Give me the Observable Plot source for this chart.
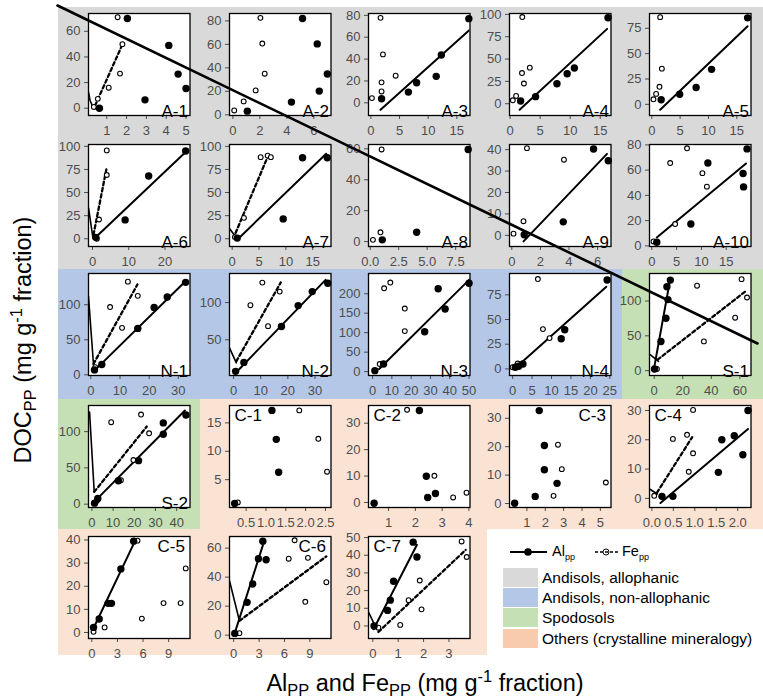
<!DOCTYPE html>
<html>
<head>
<meta charset="utf-8">
<script src="https://cdn.jsdelivr.net/npm/d3@7"></script>
<script src="https://cdn.jsdelivr.net/npm/@observablehq/plot@0.6"></script>
<style>
  body { margin: 0; background: white; font-family: "Liberation Sans", Arial, sans-serif; }
  #fig { position: relative; width: 763px; height: 700px; overflow: hidden; background: white; }
  .abs { position: absolute; }
  sub, sup { font-size: 0.62em; line-height: 0; }
  .title sub, .title sup { font-size: 0.7em; }
</style>
</head>
<body>
<div id="fig"></div>
<script>
// ---------------- data ----------------
const soilGroups = ["Andisols, allophanic", "Andisols, non-allophanic", "Spodosols", "Others (crystalline mineralogy)"];
const groupFill = ["#d9d9d9", "#b4c7e7", "#c5e0b4", "#fbe3d4"];
const swatchFill = ["#d9d9d9", "#b4c7e7", "#c5e0b4", "#f8cbad"];

const panelIds = ["A-1","A-2","A-3","A-4","A-5","A-6","A-7","A-8","A-9","A-10",
                  "N-1","N-2","N-3","N-4","S-1","S-2","C-1","C-2","C-3","C-4","C-5","C-6","C-7"];
const panelGroup = [0,0,0,0,0,0,0,0,0,0, 1,1,1,1,2, 2,3,3,3,3, 3,3,3];
const labelCorner = ["bottom-right","bottom-right","bottom-right","bottom-right","bottom-right",
                     "bottom-right","bottom-right","bottom-right","bottom-right","bottom-right",
                     "bottom-right","bottom-right","bottom-right","bottom-right","bottom-right",
                     "bottom-right","top-left","top-left","top-right","top-left",
                     "top-right","top-right","top-left"];

const xDomains = [[0.08,5.2],[-0.25,7.27],[-0.42,17.3],[-0.1,16.8],[-0.4,17.5],
                  [-1.1,26.9],[-0.5,18.4],[-0.15,8.76],[-0.16,6.94],[-0.47,20],
                  [-0.8,34],[-1.5,35.9],[-2.1,50.5],[-0.8,25.3],[-3.3,67.8],
                  [-1.6,46.3],[0.08,2.64],[0.25,4.04],[0.05,5.58],[-0.055,2.31],
                  [-0.39,11.5],[-0.5,11.5],[-0.17,3.83]];
const yDomains = [[-5.7,73.9],[-0.6,86.3],[-11.6,81.7],[-13.2,101],[-11,89.6],
                  [-8.4,102],[-8.4,102],[-3.2,62.8],[-5.2,42.4],[-0.5,80.3],
                  [-1,144.6],[2,139],[-10,252],[-6.7,96.6],[-7,139.5],
                  [-4.6,136],[0.1,18.06],[-1.9,36.7],[-1.4,34.5],[-3.1,31.7],
                  [-2.6,41.5],[-2.3,68],[-7.1,50.6]];
const xTicks = [[1,2,3,4,5],[0,2,4,6],[0,5,10,15],[0,5,10,15],[0,5,10,15],
                [0,10,20],[0,5,10,15],[0,2.5,5,7.5],[0,2,4,6],[0,5,10,15],
                [0,10,20,30],[0,10,20,30],[0,10,20,30,40,50],[0,5,10,15,20,25],[0,20,40,60],
                [0,10,20,30,40],[0.5,1,1.5,2,2.5],[1,2,3,4],[1,2,3,4,5],[0,0.5,1,1.5,2],
                [0,3,6,9],[0,3,6,9],[0,1,2,3]];
const yTicks = [[0,20,40,60],[0,20,40,60,80],[0,20,40,60,80],[0,25,50,75,100],[0,25,50,75],
                [0,25,50,75,100],[0,25,50,75,100],[0,20,40,60],[0,10,20,30,40],[0,20,40,60,80],
                [0,50,100],[50,100],[0,50,100,150,200],[0,25,50,75],[0,50,100],
                [0,50,100],[5,10,15],[0,10,20,30],[0,10,20,30],[0,10,20,30],
                [0,10,20,30,40],[0,20,40,60],[0,10,20,30,40,50]];

// Al_pp (filled) observations per panel: [Al, DOC]
const alPoints = [
  [[0.63,0],[2.04,70],[2.93,6.5],[4.13,49],[4.6,26.6],[5.0,15.4]],
  [[1.07,3.1],[4.34,10.8],[5.16,82],[6.25,60.4],[6.4,20.2],[7.0,34.8]],
  [[1.86,3.7],[6.54,9.8],[7.98,18.3],[11.4,24.2],[12.3,43.7],[17.1,77]],
  [[1.75,3],[4.24,7.9],[7.8,22.3],[9.5,33.6],[10.7,40],[16.3,96.2]],
  [[1.66,4.6],[4.92,10],[7.82,16.6],[10.55,34.5],[16.9,85.3]],
  [[0.9,1.5],[9,20.4],[15.5,67.9],[25.7,94.9]],
  [[0.94,0.7],[9.5,21.5],[13.1,87.6],[17.7,87.6]],
  [[1.06,1.1],[4.08,6],[8.6,59.6]],
  [[0.87,0.3],[3.6,6.3],[5.72,40.3],[6.75,34.8]],
  [[1.0,2.9],[7.87,17.3],[11.3,65.6],[18.4,57.3],[18.5,46.7],[19.2,76.8]],
  [[1.25,7],[3.76,14.6],[16.1,66.2],[21.7,96.2],[26.2,111],[32.5,132]],
  [[0.74,7.6],[3.8,19.6],[17.65,67.8],[23.8,95.9],[29,114.7],[34.7,125.9]],
  [[1.2,2.5],[5.7,19.5],[27,102.5],[34,212.7],[37.6,161],[50,227]],
  [[0.7,1.7],[1.55,2.7],[2.66,5],[12.5,30.5],[13.4,39.6],[24.3,90]],
  [[0.2,2.4],[4.7,41.9],[8.2,75.2],[9.6,102],[8.9,120.5],[11.3,130]],
  [[1.25,1.4],[2.8,7.8],[12.5,32.3],[22,60],[33.7,112],[33.7,96.3],[44.4,123]],
  [[0.21,0.8],[1.15,17.2],[1.26,12.1],[1.32,6.3]],
  [[0.46,-0.3],[2.15,34.8],[2.41,9.9],[2.46,1.9],[2.75,3.4]],
  [[0.33,0.1],[1.45,2.5],[1.67,32.7],[1.95,20.4],[1.95,11.9],[2.64,7.1]],
  [[0.235,0.7],[0.49,0.7],[1.55,8.9],[1.63,20],[1.92,21.4],[2.12,14.9],[2.24,30]],
  [[0.2,2.2],[0.86,5.8],[1.9,12.6],[2.3,12.6],[3.4,27.5],[4.9,39.5]],
  [[0.12,1.2],[1.58,22.6],[2.25,35.3],[2.92,52.7],[3.83,52],[3.44,64.7]],
  [[0.05,0],[0.58,8.8],[0.69,14.6],[0.82,25.3],[1.59,47.4],[1.74,39]]
];
// Fe_pp (open) observations per panel: [Fe, DOC]
const fePoints = [
  [[1.55,71],[1.79,50],[1.67,27],[1.1,16],[0.55,7.3],[0.35,1]],
  [[0.1,3.7],[0.8,11.4],[1.69,20.8],[2.04,82.6],[2.18,60.7],[2.36,35]],
  [[0.18,4.3],[1.86,10.4],[1.86,18.7],[2.1,44.3],[4.32,24.8],[1.68,77.7]],
  [[0.45,3.8],[1.0,8.7],[1.98,34.3],[2.3,22.6],[3.28,40.4],[2.03,97]],
  [[0.3,5],[0.77,10.3],[1.36,17.3],[1.78,35.2],[1.48,86]],
  [[1.2,0],[1.8,20.8],[3.94,69],[3.94,95.6]],
  [[0.5,1.8],[2.19,22.6],[5.3,88.3],[6.6,90],[7.2,88.3]],
  [[0.24,1.1],[0.9,6],[1.0,59.6]],
  [[0.12,0.8],[0.82,6.6],[1.06,40.7],[3.65,35.3]],
  [[0.34,3.5],[4.7,17.3],[3.7,65.6],[7.1,77.3],[10.2,57.6],[11.1,46.9]],
  [[1.5,11],[6.6,96.7],[10.7,67],[12.7,133],[16.1,112.7]],
  [[6.2,96.4],[10.6,126.8],[12.7,68.3],[17,114.7]],
  [[3.7,19.5],[6,214],[9.2,228.8],[16.7,162],[16.7,104]],
  [[0,1.7],[1.3,5.4],[7.8,40.3],[9.5,31.2],[6.5,91]],
  [[1.9,2.4],[30,122],[34.8,42],[56.7,76],[61.2,131.4],[65,105]],
  [[2.35,4.6],[13.7,33],[19.6,60.8],[9.1,113],[23.2,123.5],[27,97.7]],
  [[0.29,1],[1.84,17.2],[2.32,12.2],[2.54,6.4]],
  [[1.69,35.1],[2.71,10.1],[3.41,1.9],[3.91,3.7]],
  [[2.45,2.7],[2.69,20.7],[2.9,12.1],[5.3,7.4]],
  [[0.055,0.9],[0.49,20.3],[0.82,21.7],[0.86,9.1],[0.96,15.4],[0.96,30.2]],
  [[0.2,0.3],[1.5,2.2],[5.86,6],[5.35,39.7],[8.4,12.7],[10.4,12.7],[11.0,27.7]],
  [[0.67,1.4],[7.2,65.4],[6.5,52.7],[8.77,53.3],[8.46,23],[10.95,36.5]],
  [[0.22,-1],[1.08,0.6],[1.41,14.6],[1.85,25.7],[1.92,9.4],[3.5,47.8],[3.7,39]]
];
// fitted lines; null where absent
const alFits = [
  null, null, [[1.68,-6.4],[17.16,66.4]], [[1.58,-6.8],[16.16,83.8]], [[1.48,-5.3],[16.9,77]],
  [[0.46,0],[26,95]], [[0.94,-1],[17.5,92]], null, [[0.82,-2.8],[6.66,38]], [[1.0,6.7],[19.0,65.3]],
  [[1.48,7],[32.8,135]], [[0.74,5.4],[33.9,130.4]], [[3.4,6.8],[50.3,237]], [[0.7,1],[24.1,83.2]], [[-0.5,-1],[11.3,132.4]],
  [[0,0],[43.9,129]], null, null, null, [[0.2,-1.6],[2.24,23.7]],
  [[0,0.3],[4.9,38.3]], [[0.08,0.7],[3.44,61.9]], [[0.03,-1.9],[1.74,45.9]]
];
const feFits = [
  [[0.41,2],[1.81,50.4]], null, null, null, null,
  [[0.28,4.4],[3.94,77.4]], [[0.63,6.2],[6.7,90]], null, null, null,
  [[0.9,15.5],[16,129]], [[1,21],[17.4,127]], null, null, [[2.35,15.7],[64.2,114.3]],
  [[1.1,17],[25.9,107]], null, null, null, [[0.12,2],[0.94,20.9]],
  null, [[0.67,9.9],[10.95,54.3]], [[0.22,-3.4],[3.66,43]]
];
// short solid strokes entering from the left panel edge
const hooks = [
  [[0.08,12.5],[0.16,6],[0.29,1.3],[0.4,-0.5]], null, null, null, null,
  [[-1.1,33.6],[0.1,1.5]], [[-0.5,11],[0.8,0.7]], null, null, null,
  [[-0.8,111.7],[0.9,15.5]], [[-1.5,39],[1,19]], null, null, [[-3.3,23.8],[3,13.3]],
  [[-1.1,127],[1.1,17]], null, null, null, [[-0.055,3.2],[0.13,1.5]],
  null, [[-0.5,37.6],[0.67,9.9]], [[-0.17,7.9],[0.09,0]]
];
// long diagonal stroke across the figure, in page pixel units
const strayLine = [[57,5],[757,343]];

// ---------------- layout ----------------
const FRAME_X = [88, 228.5, 368, 509, 649];
const FRAME_Y = [13, 144, 273, 405, 536];
const FRAME_W = 101.5, FRAME_H = 102;
const CELL_X = [58, 200, 341, 487, 622, 763];
const CELL_Y = [7, 138, 269, 399, 529, 655];
const ML = 36, MR = 8, MT = 4, MB = 24;
const FONT = "'Liberation Sans', Arial, Helvetica, sans-serif";
const AXIS_COLOR = "#4d4d4d";

const fig = document.getElementById("fig");

function fmtFor(ticks) {
  return ticks.some(v => !Number.isInteger(v)) ? d3.format(".1f") : d3.format("d");
}

panelIds.forEach((id, i) => {
  const r = Math.floor(i / 5), c = i % 5;
  const bg = document.createElement("div");
  bg.className = "abs";
  Object.assign(bg.style, {
    left: CELL_X[c] + "px", top: CELL_Y[r] + "px",
    width: (CELL_X[c + 1] - CELL_X[c]) + "px", height: (CELL_Y[r + 1] - CELL_Y[r]) + "px",
    background: groupFill[panelGroup[i]]
  });
  fig.appendChild(bg);
});

panelIds.forEach((id, i) => {
  const r = Math.floor(i / 5), c = i % 5;
  const corner = labelCorner[i];
  const dx = corner === "bottom-right" ? -2 : corner === "top-right" ? -5 : 5;
  const dy = corner === "bottom-right" ? 1 : 3;
  const marks = [
    Plot.frame({fill: "white"}),
    Plot.axisX({ticks: xTicks[i], tickFormat: fmtFor(xTicks[i]), tickSize: 4, tickPadding: 6,
                fontSize: 13, color: AXIS_COLOR, label: null}),
    Plot.axisY({ticks: yTicks[i], tickFormat: fmtFor(yTicks[i]), tickSize: 4, tickPadding: 4,
                fontSize: 13, color: AXIS_COLOR, label: null})
  ];
  if (hooks[i]) marks.push(Plot.line(hooks[i], {x: d => d[0], y: d => d[1], stroke: "black", strokeWidth: 1.6, clip: true}));
  if (feFits[i]) marks.push(Plot.line(feFits[i], {x: d => d[0], y: d => d[1], stroke: "black", strokeWidth: 2.3, strokeDasharray: "3.5,2.8", clip: true}));
  if (alFits[i]) marks.push(Plot.line(alFits[i], {x: d => d[0], y: d => d[1], stroke: "black", strokeWidth: 2, clip: true}));
  marks.push(Plot.dot(fePoints[i], {x: d => d[0], y: d => d[1], r: 2.4, fill: "white", stroke: "black", strokeWidth: 1.1}));
  marks.push(Plot.dot(alPoints[i], {x: d => d[0], y: d => d[1], r: 3.7, fill: "black", stroke: "none"}));
  marks.push(Plot.text([id], {text: d => d, frameAnchor: corner, dx, dy, fontSize: 17, fill: "black"}));
  marks.push(Plot.frame({stroke: "black", strokeWidth: 1.3}));

  const svg = Plot.plot({
    width: ML + FRAME_W + MR,
    height: MT + FRAME_H + MB,
    marginLeft: ML, marginRight: MR, marginTop: MT, marginBottom: MB,
    x: {domain: xDomains[i]},
    y: {domain: yDomains[i]},
    style: {background: "transparent", overflow: "visible", fontFamily: FONT, fontSize: "13px"},
    marks
  });
  svg.classList.add("abs");
  svg.style.left = (FRAME_X[c] - ML) + "px";
  svg.style.top = (FRAME_Y[r] - MT) + "px";
  svg.style.maxWidth = "none";
  fig.appendChild(svg);
});

// diagonal overlay stroke
const overlay = Plot.plot({
  width: 763, height: 700, margin: 0,
  x: {domain: [0, 763], range: [0, 763], axis: null},
  y: {domain: [0, 700], range: [0, 700], axis: null},
  style: {background: "transparent", overflow: "visible"},
  marks: [Plot.line(strayLine, {x: d => d[0], y: d => d[1], stroke: "black", strokeWidth: 2.6})]
});
overlay.classList.add("abs");
overlay.style.left = "0px"; overlay.style.top = "0px"; overlay.style.pointerEvents = "none"; overlay.style.maxWidth = "none";

// axis titles
const yTitle = document.createElement("div");
yTitle.className = "abs title";
yTitle.innerHTML = "DOC<sub>PP</sub> (mg g<sup>-1</sup> fraction)";
Object.assign(yTitle.style, {left: "23px", top: "340px", transform: "translate(-50%,-50%) rotate(-90deg)",
  whiteSpace: "nowrap", fontSize: "23.5px", color: "black", fontFamily: FONT});
fig.appendChild(yTitle);

const xTitle = document.createElement("div");
xTitle.className = "abs title";
xTitle.innerHTML = "Al<sub>PP</sub> and Fe<sub>PP</sub> (mg g<sup>-1</sup> fraction)";
Object.assign(xTitle.style, {left: "425px", top: "683px", transform: "translate(-50%,-50%)",
  whiteSpace: "nowrap", fontSize: "23.5px", color: "black", fontFamily: FONT});
fig.appendChild(xTitle);

// legend
const legend = document.createElement("div");
legend.className = "abs";
Object.assign(legend.style, {left: "487px", top: "529px", width: "276px", height: "126px", background: "white", fontFamily: FONT});
legend.innerHTML =
  `<svg class="abs" style="left:22px;top:15px" width="40" height="16">
     <line x1="1" y1="8" x2="38" y2="8" stroke="black" stroke-width="2"/>
     <circle cx="19" cy="8" r="3.8" fill="black"/></svg>
   <div class="abs" style="left:65px;top:14px;font-size:14.5px">Al<sub>pp</sub></div>
   <svg class="abs" style="left:107px;top:15px" width="26" height="16">
     <circle cx="12" cy="8" r="3" fill="white" stroke="black" stroke-width="1"/>
     <line x1="1" y1="8" x2="25" y2="8" stroke="black" stroke-width="1.4" stroke-dasharray="3,2"/></svg>
   <div class="abs" style="left:135px;top:14px;font-size:14.5px">Fe<sub>pp</sub></div>`;
soilGroups.forEach((g, k) => {
  const sw = document.createElement("div");
  sw.className = "abs";
  Object.assign(sw.style, {left: "16px", top: (39 + k * 20.2) + "px", width: "35px", height: "19px", background: swatchFill[k]});
  legend.appendChild(sw);
  const tx = document.createElement("div");
  tx.className = "abs";
  tx.textContent = g;
  Object.assign(tx.style, {left: "55px", top: (39 + k * 20.2) + "px", height: "19px", lineHeight: "19px", fontSize: "15.5px", whiteSpace: "nowrap"});
  legend.appendChild(tx);
});
fig.appendChild(legend);
fig.appendChild(overlay);
</script>
</body>
</html>
